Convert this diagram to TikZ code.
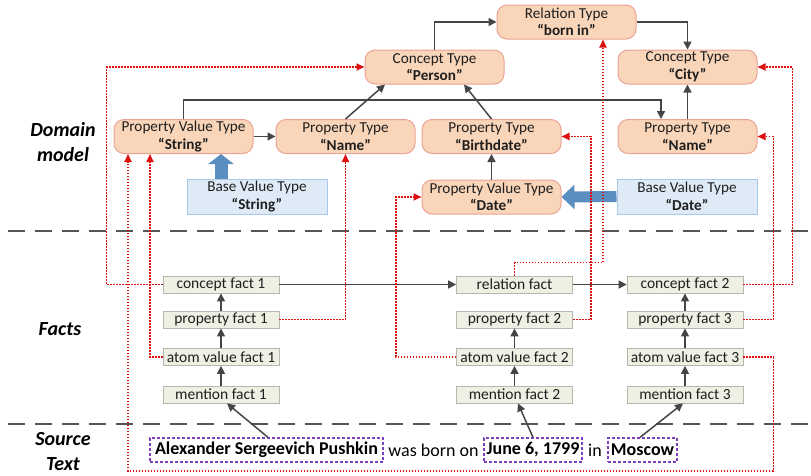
\documentclass[tikz,border=0pt]{standalone}
\usepackage{fontspec}
\setmainfont{Carlito}
\usetikzlibrary{arrows.meta}
\definecolor{peach}{HTML}{F9D5B9}
\definecolor{peachline}{HTML}{EBA394}
\definecolor{bluefill}{HTML}{DEEBF7}
\definecolor{blueline}{HTML}{A9C9E8}
\definecolor{blockblue}{HTML}{5B8EC0}
\definecolor{factfill}{HTML}{EEF0E4}
\definecolor{factline}{HTML}{B5B8AE}
\definecolor{darkline}{HTML}{454545}
\definecolor{reddot}{HTML}{DC1010}
\definecolor{purp}{HTML}{7B3FBF}
\definecolor{sepgray}{HTML}{555555}
\tikzset{
  domnode/.style={draw=peachline, fill=peach, line width=1pt, rounded corners=10pt,
    minimum width=139pt, minimum height=34pt, inner sep=0pt, align=center,
    font=\fontsize{15.2}{17.5}\selectfont, text=black!88},
  basenode/.style={draw=blueline, fill=bluefill, line width=1pt,
    minimum width=140pt, minimum height=35pt, inner sep=0pt, align=center,
    font=\fontsize{15.2}{17.5}\selectfont, text=black!88},
  factnode/.style={draw=factline, fill=factfill, line width=0.8pt,
    minimum width=116pt, minimum height=17pt, inner sep=0pt,
    font=\fontsize{15.5}{16}\selectfont, text=black!88},
  mentionbox/.style={draw=purp, line width=1.3pt, dash pattern=on 3pt off 2pt,
    minimum height=24pt, inner sep=0pt, font=\fontsize{18}{20}\selectfont\bfseries},
  plaintext/.style={inner sep=0pt, font=\fontsize{18}{20}\selectfont},
  sidelabel/.style={align=center, font=\fontsize{20}{25}\selectfont\bfseries\itshape},
  darkarrow/.style={draw=darkline, line width=1.5pt, -{Triangle[length=8pt,width=8pt]}},
  redarrow/.style={draw=reddot, line width=1.7pt, dash pattern=on 1.6pt off 1.4pt,
    -{Triangle[length=8pt,width=7pt,fill=reddot]}},
  separator/.style={draw=sepgray, line width=2.2pt, dash pattern=on 17pt off 10pt},
}
\begin{document}
\begin{tikzpicture}[x=1pt,y=-1pt]
\useasboundingbox (0,0) rectangle (811,475);

% separators
\coordinate (s1a) at (8,231); \coordinate (s1b) at (811,231);
\coordinate (s2a) at (8,424); \coordinate (s2b) at (811,424);
\draw[separator] (s1a) -- (s1b);
\draw[separator] (s2a) -- (s2b);

% side labels
\node[sidelabel] (lbldomain) at (63,142) {Domain\\model};
\node[sidelabel] (lblfacts) at (60,329) {Facts};
\node[sidelabel] (lblsource) at (63,452) {Source\\Text};

% domain model nodes
\node[domnode] (person) at (434.5,67) {Concept Type\\\textbf{“Person”}};
\node[domnode] (rel) at (566.5,22) {Relation Type\\\textbf{“born in”}};
\node[domnode] (city) at (687.5,67) {Concept Type\\\textbf{“City”}};
\node[domnode] (pvts) at (183.5,136.5) {Property Value Type\\\textbf{“String”}};
\node[domnode] (ptname1) at (345.5,136.5) {Property Type\\\textbf{“Name”}};
\node[domnode] (ptbirth) at (491.5,136.5) {Property Type\\\textbf{“Birthdate”}};
\node[domnode] (ptname2) at (687.5,136.5) {Property Type\\\textbf{“Name”}};
\node[domnode] (pvtdate) at (491.5,197) {Property Value Type\\\textbf{“Date”}};
\node[basenode] (bvts) at (257,196.5) {Base Value Type\\\textbf{“String”}};
\node[basenode] (bvtd) at (687,196.5) {Base Value Type\\\textbf{“Date”}};

% facts
\node[factnode] (cf1) at (221,284.5) {concept fact 1};
\node[factnode] (pf1) at (221,319.5) {property fact 1};
\node[factnode] (af1) at (221,357) {atom value fact 1};
\node[factnode] (mf1) at (221,394.5) {mention fact 1};
\node[factnode] (rf) at (514.5,284.5) {relation fact};
\node[factnode] (pf2) at (514.5,319.5) {property fact 2};
\node[factnode] (af2) at (514.5,357) {atom value fact 2};
\node[factnode] (mf2) at (514.5,394.5) {mention fact 2};
\node[factnode] (cf2) at (685,284.5) {concept fact 2};
\node[factnode] (pf3) at (685,319.5) {property fact 3};
\node[factnode] (af3) at (685,357) {atom value fact 3};
\node[factnode] (mf3) at (685,394.5) {mention fact 3};

% source text
\node[mentionbox, minimum width=233pt] (push) at (266.5,450) {Alexander Sergeevich Pushkin};
\node[plaintext] (wasborn) at (433.5,450) {was born on};
\node[mentionbox, minimum width=98pt] (june) at (533,450) {June 6, 1799};
\node[plaintext] (intext) at (595,450) {in};
\node[mentionbox, minimum width=69pt] (moscow) at (642.5,450) {Moscow};

% block arrows
\draw[blockblue, line width=13pt, -{Triangle[length=10pt,width=25pt]}] (bvts.north -| 221,0) -- (pvts.south -| 221,0);
\draw[blockblue, line width=11pt, -{Triangle[length=13pt,width=24pt]}] (bvtd.west) -- (pvtdate.east);

% domain connectors
\draw[darkarrow] (pvts.east) -- (ptname1.west);
\draw[darkarrow] (ptname1.north) -- ([xshift=-49.5pt]person.south);
\draw[darkarrow] (pvts.north) -- ++(0,-19) -| ([xshift=-26.5pt]ptname2.north);
\draw[darkarrow] (ptbirth.north) -- ([xshift=29.5pt]person.south);
\draw[darkarrow] (pvtdate.north) -- (ptbirth.south);
\draw[darkarrow] (person.north) |- (rel.west);
\draw[darkarrow] (rel.east) -| (city.north);
\draw[darkarrow] (ptname2.north) -- (city.south);

% fact connectors
\draw[darkarrow] (mf1) -- (af1);
\draw[darkarrow] (af1) -- (pf1);
\draw[darkarrow] (pf1) -- (cf1);
\draw[darkarrow] (mf2) -- (af2);
\draw[darkarrow] (af2) -- (pf2);
\draw[darkarrow] (mf3) -- (af3);
\draw[darkarrow] (af3) -- (pf3);
\draw[darkarrow] (pf3) -- (cf2);
\draw[darkarrow] (cf1.east) -- (rf.west);
\draw[darkarrow] (rf.east) -- (cf2.west);
\draw[darkarrow] ([xshift=1.5pt]push.north) -- ([xshift=6pt]mf1.south);
\draw[darkarrow] (june.north) -- ([xshift=3.5pt]mf2.south);
\draw[darkarrow] ([xshift=-2.5pt]moscow.north) -- ([xshift=-2pt]mf3.south);

% red dotted links
\draw[redarrow] (cf1.west) -- ++(-56,0) |- (person.west);
\draw[redarrow] (af1.west) -| ([xshift=-33.5pt]pvts.south);
\draw[redarrow] (af3.east) -- ++(30,0) -- ++(0,114) -| ([xshift=-55.5pt]pvts.south);
\draw[redarrow] (pf1.east) -| (ptname1.south);
\draw[redarrow] (af2.west) -- ++(-60,0) |- (pvtdate.west);
\draw[redarrow] (pf2.east) -- ++(18,0) |- (ptbirth.east);
\draw[redarrow] (rf.north) -- ++(0,-13) -| ([xshift=36.5pt]rel.south);
\draw[redarrow] (cf2.east) -- ++(49,0) |- (city.east);
\draw[redarrow] (pf3.east) -- ++(30,0) |- (ptname2.east);
\end{tikzpicture}
\end{document}
